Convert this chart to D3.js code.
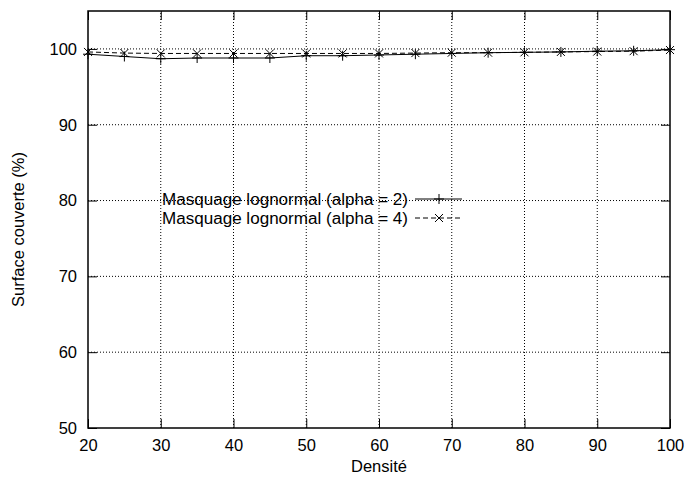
<!DOCTYPE html>
<html><head><meta charset="utf-8">
<script src="https://cdn.jsdelivr.net/npm/d3@7/dist/d3.min.js"></script>
<style>body{margin:0;background:#fff}svg{display:block}text{font-family:"Liberation Sans",Arial,sans-serif}</style>
</head><body>
<svg id="c" width="688" height="480"></svg>
<script>
const densites = [20,25,30,35,40,45,50,55,60,65,70,75,80,85,90,95,100];
const alpha2 = [99.3,99.0,98.7,98.8,98.8,98.8,99.1,99.1,99.2,99.3,99.4,99.5,99.55,99.6,99.7,99.75,99.9];
const alpha4 = [99.6,99.45,99.4,99.4,99.4,99.4,99.4,99.4,99.4,99.45,99.5,99.5,99.55,99.6,99.65,99.7,99.85];
const xTicks = [20,30,40,50,60,70,80,90,100];
const yTicks = [50,60,70,80,90,100];
const seriesNames = ["Masquage lognormal (alpha = 2)","Masquage lognormal (alpha = 4)"];

const svg = d3.select("#c");
const L=88,R=670,T=11,B=428;
const x = d3.scaleLinear().domain([20,100]).range([L,R]);
const y = d3.scaleLinear().domain([50,105]).range([B,T]);
const fs = 16.5;

// grid
const g = svg.append("g");
g.selectAll(".gx").data(xTicks.filter(d=>d>20&&d<100)).enter().append("line")
 .attr("x1",d=>x(d)).attr("x2",d=>x(d)).attr("y1",B).attr("y2",T)
 .attr("stroke","#000").attr("stroke-width",1).attr("stroke-dasharray","1,2");
g.selectAll(".gy").data(yTicks.filter(d=>d>50)).enter().append("line")
 .attr("y1",d=>y(d)).attr("y2",d=>y(d)).attr("x1",L).attr("x2",R)
 .attr("stroke","#000").attr("stroke-width",1).attr("stroke-dasharray","1,2");

// axes via d3
const tl = 9;
svg.append("g").attr("transform",`translate(0,${B})`)
 .call(d3.axisBottom(x).tickValues(xTicks).tickSizeInner(-tl).tickSizeOuter(0).tickPadding(11))
 .call(a=>{a.select(".domain").remove();a.selectAll("text").attr("font-size",fs).attr("font-family","Liberation Sans, Arial, sans-serif").attr("fill","#000");});
svg.append("g").attr("transform",`translate(0,${T})`)
 .call(d3.axisTop(x).tickValues(xTicks).tickSizeInner(-tl).tickSizeOuter(0).tickFormat(""))
 .call(a=>a.select(".domain").remove());
svg.append("g").attr("transform",`translate(${L},0)`)
 .call(d3.axisLeft(y).tickValues(yTicks).tickSizeInner(-tl).tickSizeOuter(0).tickPadding(11))
 .call(a=>{a.select(".domain").remove();a.selectAll("text").attr("font-size",fs).attr("font-family","Liberation Sans, Arial, sans-serif").attr("fill","#000");});
svg.append("g").attr("transform",`translate(${R},0)`)
 .call(d3.axisRight(y).tickValues(yTicks).tickSizeInner(-tl).tickSizeOuter(0).tickFormat(""))
 .call(a=>a.select(".domain").remove());

svg.append("rect").attr("x",L).attr("y",T).attr("width",R-L).attr("height",B-T)
 .attr("fill","none").attr("stroke","#000").attr("stroke-width",1.5);

// labels
svg.append("text").attr("x",(L+R)/2).attr("y",472).attr("text-anchor","middle").attr("font-size",fs).text("Densité");
svg.append("text").attr("transform",`translate(24,${(T+B)/2+10}) rotate(-90)`).attr("text-anchor","middle").attr("font-size",fs).text("Surface couverte (%)");

// series
const line = d3.line().x(d=>x(d[0])).y(d=>y(d[1]));
const d2 = densites.map((d,i)=>[d,alpha2[i]]);
const d4 = densites.map((d,i)=>[d,alpha4[i]]);
svg.append("path").datum(d2).attr("d",line).attr("fill","none").attr("stroke","#000").attr("stroke-width",1);
svg.append("path").datum(d4).attr("d",line).attr("fill","none").attr("stroke","#000").attr("stroke-width",1).attr("stroke-dasharray","5,3");
const ms=5;
function plus(sel,px,py){sel.append("path").attr("d",`M${px-ms},${py}H${px+ms}M${px},${py-ms}V${py+ms}`).attr("stroke","#000").attr("stroke-width",1);}
function cross(sel,px,py){const s=4;sel.append("path").attr("d",`M${px-s},${py-s}L${px+s},${py+s}M${px-s},${py+s}L${px+s},${py-s}`).attr("stroke","#000").attr("stroke-width",1);}
const mk = svg.append("g");
d2.forEach(d=>plus(mk,x(d[0]),y(d[1])));
d4.forEach(d=>cross(mk,x(d[0]),y(d[1])));

// legend
const lg = svg.append("g");
const rows=[199,218];
seriesNames.forEach((n,i)=>{
  lg.append("text").attr("x",408).attr("y",rows[i]+6).attr("text-anchor","end").attr("font-size",16)
    .attr("textLength",246).attr("lengthAdjust","spacingAndGlyphs").text(n);
  const ln = lg.append("line").attr("x1",415).attr("x2",462).attr("y1",rows[i]).attr("y2",rows[i]).attr("stroke","#000").attr("stroke-width",1);
  if(i===1){ln.attr("stroke-dasharray","5,3");cross(lg,439,rows[i]);} else plus(lg,439,rows[i]);
});
</script>
</body></html>
